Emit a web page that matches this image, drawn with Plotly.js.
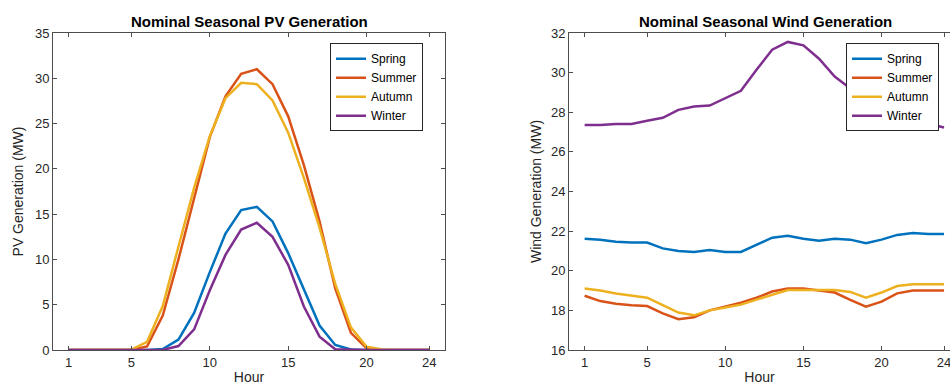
<!DOCTYPE html>
<html>
<head>
<meta charset="utf-8">
<script src="https://cdn.plot.ly/plotly-3.0.1.min.js"></script>
<style>html,body{margin:0;padding:0;background:#fff;overflow:hidden}#chart{width:950px;height:385px}</style>
</head>
<body>
<div id="chart"></div>
<script>
const hours = [1,2,3,4,5,6,7,8,9,10,11,12,13,14,15,16,17,18,19,20,21,22,23,24];
const seasons = ["Spring","Summer","Autumn","Winter"];
const colors = ["#0072BD","#D95319","#EDB120","#7E2F8E"];
const xTicks = [1,5,10,15,20,24];

// PV generation (MW)
const pvSpring = [0,0,0,0,0,0,0.1,1.15,4.1,8.6,12.85,15.45,15.8,14.2,10.7,6.6,2.7,0.55,0.05,0,0,0,0,0];
const pvSummer = [0,0,0,0,0,0.4,3.8,10.0,16.7,23.5,28.0,30.5,31.0,29.35,25.8,20.4,14.2,6.8,1.9,0.18,0,0,0,0];
const pvAutumn = [0,0,0,0,0.05,0.9,4.85,11.4,17.9,23.6,27.8,29.5,29.35,27.55,24.0,19.0,13.5,7.3,2.5,0.35,0.05,0,0,0];
const pvWinter = [0,0,0,0,0,0,0,0.44,2.28,6.6,10.5,13.3,14.05,12.5,9.4,4.8,1.47,0.08,0,0,0,0,0,0];

// Wind generation (MW)
const windSpring = [21.62,21.57,21.47,21.42,21.42,21.13,21.0,20.95,21.05,20.95,20.95,21.3,21.67,21.77,21.62,21.52,21.62,21.57,21.39,21.57,21.81,21.91,21.86,21.86];
const windSummer = [18.74,18.47,18.34,18.26,18.22,17.85,17.55,17.65,18.0,18.19,18.39,18.64,18.95,19.1,19.1,19.0,18.9,18.53,18.19,18.44,18.86,19.0,19.0,19.0];
const windAutumn = [19.1,19.0,18.85,18.74,18.64,18.26,17.89,17.75,18.0,18.14,18.29,18.54,18.8,19.03,19.03,19.03,19.03,18.93,18.64,18.9,19.23,19.32,19.32,19.32];
const windWinter = [27.36,27.36,27.41,27.41,27.57,27.72,28.12,28.29,28.34,28.71,29.08,30.14,31.16,31.55,31.38,30.7,29.8,29.2,28.9,28.5,28.2,27.78,27.42,27.23];

const pvSeries = [pvSpring,pvSummer,pvAutumn,pvWinter];
const windSeries = [windSpring,windSummer,windAutumn,windWinter];

const FONT = "Liberation Sans, Arial, Helvetica, sans-serif";
const TXT = "#262626";
const AX = "#4d4d4d";

const traces = [];
seasons.forEach((s,i)=>{
  traces.push({x:hours,y:pvSeries[i],type:"scatter",mode:"lines",name:s,
    line:{color:colors[i],width:2.5},xaxis:"x",yaxis:"y",legend:"legend"});
});
seasons.forEach((s,i)=>{
  traces.push({x:hours,y:windSeries[i],type:"scatter",mode:"lines",name:s,
    line:{color:colors[i],width:2.5},xaxis:"x2",yaxis:"y2",legend:"legend2"});
});

function axisBase(){
  return {showgrid:false,zeroline:false,showline:true,linecolor:AX,linewidth:1,
    ticks:"inside",ticklen:4,tickcolor:AX,tickfont:{family:FONT,size:13,color:TXT},
    ticklabeloverflow:"allow"};
}
const xa = Object.assign(axisBase(),{domain:[53/950,445/950],range:[0,25],tickvals:xTicks,mirror:"ticks",
  title:{text:"Hour",font:{family:FONT,size:14,color:TXT},standoff:11},anchor:"y"});
const ya = Object.assign(axisBase(),{range:[0,35],dtick:5,mirror:"ticks",
  title:{text:"PV Generation (MW)",font:{family:FONT,size:14,color:TXT},standoff:8},anchor:"x"});
const xa2 = Object.assign(axisBase(),{domain:[569/950,1],range:[0,24.38],tickvals:xTicks,mirror:"ticks",
  title:{text:"Hour",font:{family:FONT,size:14,color:TXT},standoff:11},anchor:"y2"});
const ya2 = Object.assign(axisBase(),{range:[16,32],dtick:2,
  title:{text:"Wind Generation (MW)",font:{family:FONT,size:14,color:TXT},standoff:6},anchor:"x2"});

const legendBase = {font:{family:FONT,size:12,color:"#000"},bgcolor:"#fff",bordercolor:"#262626",borderwidth:1,
  xanchor:"left",yanchor:"top",tracegroupgap:0};

const layout = {
  width:950,height:385,margin:{l:0,r:0,t:33,b:35},
  paper_bgcolor:"#fff",plot_bgcolor:"#fff",
  font:{family:FONT,color:TXT},
  xaxis:xa,yaxis:ya,xaxis2:xa2,yaxis2:ya2,
  legend:Object.assign({},legendBase,{x:330/950,y:0.968}),
  legend2:Object.assign({},legendBase,{x:846/950,y:0.968}),
  annotations:[
    {text:"<b>Nominal Seasonal PV Generation</b>",xref:"paper",yref:"paper",x:249/950,y:1+12/317,
     xanchor:"center",yanchor:"middle",showarrow:false,font:{family:FONT,size:15,color:"#000"}},
    {text:"<b>Nominal Seasonal Wind Generation</b>",xref:"paper",yref:"paper",x:765/950,y:1+12/317,
     xanchor:"center",yanchor:"middle",showarrow:false,font:{family:FONT,size:15,color:"#000"}}
  ],
  showlegend:true
};
Plotly.newPlot("chart",traces,layout,{displayModeBar:false,staticPlot:true});
</script>
</body>
</html>
